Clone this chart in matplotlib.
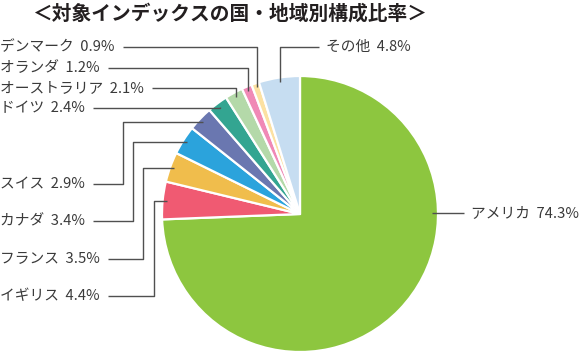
import matplotlib
matplotlib.use("Agg")
import matplotlib.pyplot as plt
import numpy as np

plt.rcParams['font.family'] = ['Noto Sans CJK JP', 'DejaVu Sans']

# ---- data ----
countries = ["アメリカ", "イギリス", "フランス", "カナダ", "スイス", "ドイツ",
             "オーストラリア", "オランダ", "デンマーク", "その他"]
shares = [74.3, 4.4, 3.5, 3.4, 2.9, 2.4, 2.1, 1.2, 0.9, 4.8]
colors = ["#8DC63F", "#F05A72", "#F0BD4C", "#2BA3DC", "#6A77B0", "#33A591",
          "#B4D9A9", "#F089B6", "#FCE1A2", "#C6DDF1"]
title = "＜対象インデックスの国・地域別構成比率＞"

# ---- layout (pixel space, y measured from top) ----
W, H = 583, 355
cx, cy_px, R = 300, 214, 138
label_y = [213, 296, 259, 221, 184, 108, 88, 68, 47, 47]
side = ["right", "left", "left", "left", "left", "left", "left", "left", "left", "righttop"]
elbow_x = [None, 154, 143, 133, 123, None, None, None, None, None]

fig = plt.figure(figsize=(W / 100, H / 100), dpi=100)
ax = fig.add_axes([0, 0, 1, 1])

def Y(py):
    return H - py

ax.pie(shares, colors=colors, startangle=90, counterclock=False,
       center=(cx, Y(cy_px)), radius=R,
       wedgeprops=dict(edgecolor="white", linewidth=1.6))
ax.set_xlim(0, W)
ax.set_ylim(0, H)
ax.set_aspect("equal")
ax.axis("off")

ax.text(230, Y(14), title, ha="center", va="center", fontsize=14.2,
        fontweight="bold", color="#231F20")

total = sum(shares)
cum = np.cumsum([0] + shares[:-1])
line_kw = dict(color="#505050", lw=1.0, solid_capstyle="butt")
txt_kw = dict(fontsize=10.6, color="#3A3A3A", va="center")

fig.canvas.draw()
renderer = fig.canvas.get_renderer()

for i, (name, v) in enumerate(zip(countries, shares)):
    label = f"{name}  {v}%"
    ly = Y(label_y[i])
    if side[i] == "right":
        ang = 0.0
        axp = cx + 0.955 * R * np.cos(ang)
        tx = 471
        ax.plot([axp, tx - 7], [ly, ly], **line_kw)
        ax.text(tx, ly, label, ha="left", **txt_kw)
        continue
    ang = np.deg2rad(90 - 360 * (cum[i] + v / 2) / total)
    axp = cx + 0.97 * R * np.cos(ang)
    ayp = Y(cy_px) + 0.97 * R * np.sin(ang)
    if side[i] == "righttop":
        tx = 326
        ax.plot([axp, axp, tx - 7], [ayp, ly, ly], **line_kw)
        ax.text(tx, ly, label, ha="left", **txt_kw)
        continue
    t = ax.text(0, ly, label, ha="left", **txt_kw)
    bb = t.get_window_extent(renderer)
    x_end = bb.x1 + 8
    ex = axp if elbow_x[i] is None else elbow_x[i]
    ax.plot([x_end, ex, ex, axp], [ly, ly, ayp, ayp], **line_kw)

fig.savefig("out.png", dpi=100)
